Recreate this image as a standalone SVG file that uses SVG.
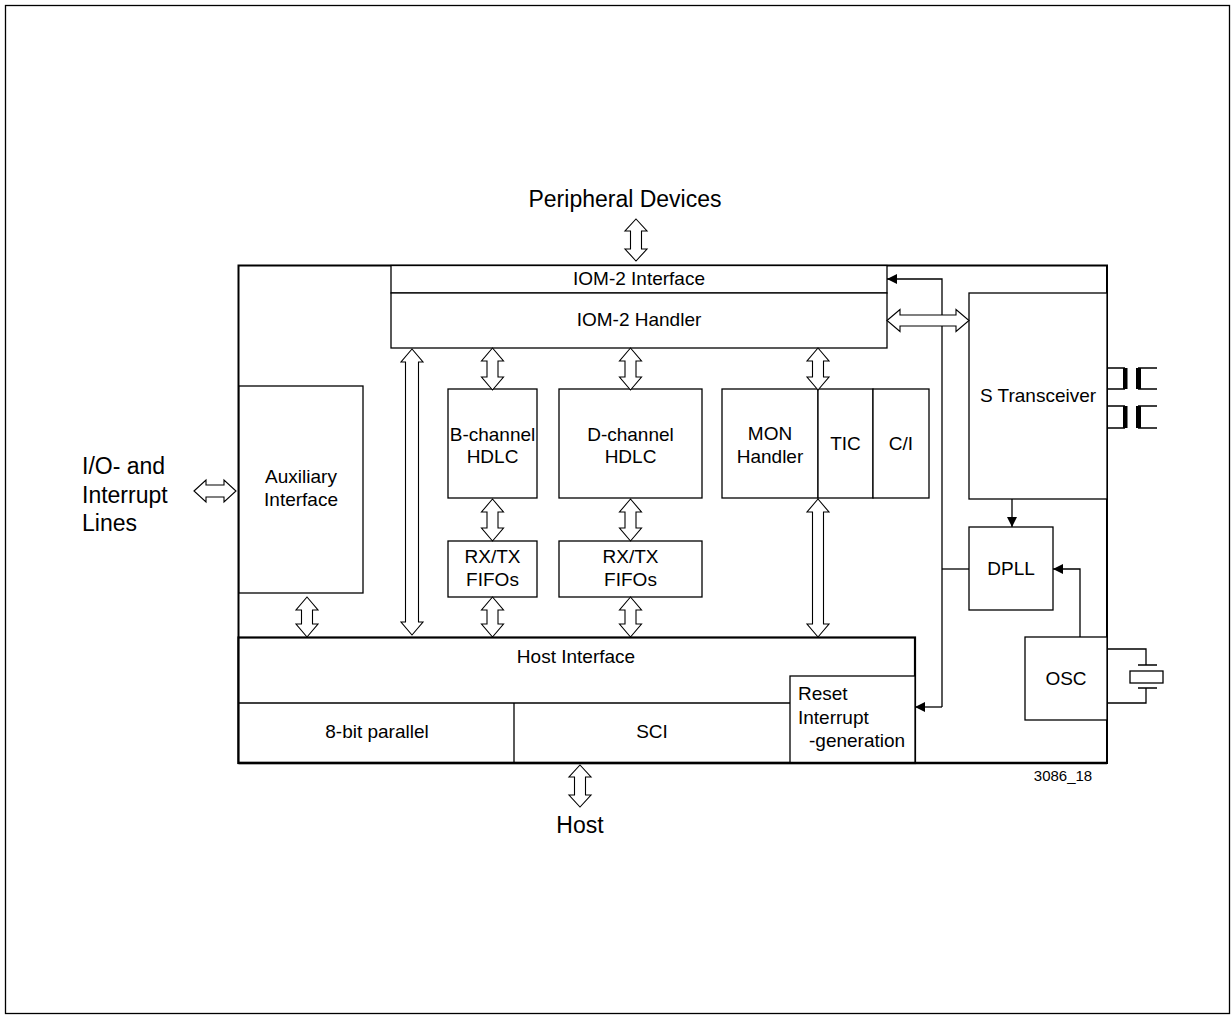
<svg xmlns="http://www.w3.org/2000/svg" width="1232" height="1016" viewBox="0 0 1232 1016">
<defs>
<style>
text{font-family:"Liberation Sans",Arial,sans-serif;fill:#000}
.t{font-size:19px;text-anchor:middle}
.tl{font-size:19px}
.big{font-size:23px}
.box{fill:#fff;stroke:#000;stroke-width:1.3}
.ln{fill:none;stroke:#000;stroke-width:1.3}
.da{fill:#fff;stroke:#000;stroke-width:1.1;stroke-linejoin:miter}
</style>
<marker id="ah" viewBox="0 0 10 10" refX="10" refY="5" markerWidth="10" markerHeight="10" markerUnits="userSpaceOnUse" orient="auto">
<path d="M0,0 L10,5 L0,10 Z" fill="#000"/>
</marker>
</defs>
<rect width="1232" height="1016" fill="#fff"/>
<rect x="5.5" y="5.5" width="1224" height="1008" fill="none" stroke="#000" stroke-width="1.3"/>

<g id="chip">
<rect x="238.5" y="265.5" width="868.5" height="497.5" fill="#fff" stroke="#000" stroke-width="2"/>
</g>

<g id="peripheral-label"><text class="big" x="625" y="207" text-anchor="middle">Peripheral Devices</text></g>
<g id="io-label">
<text class="big" x="82" y="474">I/O- and</text>
<text class="big" x="82" y="503">Interrupt</text>
<text class="big" x="82" y="531">Lines</text>
</g>
<g id="host-label"><text class="big" x="580" y="833" text-anchor="middle">Host</text></g>
<g id="figure-id"><text x="1063" y="781" font-size="15" text-anchor="middle">3086_18</text></g>

<g id="iom2-interface">
<rect class="box" x="391" y="265.5" width="496" height="27.5"/>
<text class="t" x="639" y="285">IOM-2 Interface</text>
</g>
<g id="iom2-handler">
<rect class="box" x="391" y="293" width="496" height="55"/>
<text class="t" x="639" y="326">IOM-2 Handler</text>
</g>
<g id="auxiliary-interface">
<rect class="box" x="239" y="386" width="124" height="207"/>
<text class="t" x="301" y="483">Auxiliary</text>
<text class="t" x="301" y="506">Interface</text>
</g>
<g id="b-channel-hdlc">
<rect class="box" x="448" y="389" width="89" height="109"/>
<text class="t" x="492.5" y="441">B-channel</text>
<text class="t" x="492.5" y="463">HDLC</text>
</g>
<g id="d-channel-hdlc">
<rect class="box" x="559" y="389" width="143" height="109"/>
<text class="t" x="630.5" y="441">D-channel</text>
<text class="t" x="630.5" y="463">HDLC</text>
</g>
<g id="b-fifos">
<rect class="box" x="448" y="541" width="89" height="56"/>
<text class="t" x="492.5" y="563">RX/TX</text>
<text class="t" x="492.5" y="586">FIFOs</text>
</g>
<g id="d-fifos">
<rect class="box" x="559" y="541" width="143" height="56"/>
<text class="t" x="630.5" y="563">RX/TX</text>
<text class="t" x="630.5" y="586">FIFOs</text>
</g>
<g id="mon-handler">
<rect class="box" x="722" y="389" width="96" height="109"/>
<text class="t" x="770" y="440">MON</text>
<text class="t" x="770" y="463">Handler</text>
</g>
<g id="tic">
<rect class="box" x="818" y="389" width="55" height="109"/>
<text class="t" x="845.5" y="450">TIC</text>
</g>
<g id="ci">
<rect class="box" x="873" y="389" width="56" height="109"/>
<text class="t" x="901" y="450">C/I</text>
</g>
<g id="s-transceiver">
<rect class="box" x="969" y="293" width="138" height="206"/>
<text class="t" x="1038" y="402">S Transceiver</text>
</g>
<g id="dpll">
<rect class="box" x="969" y="527" width="84" height="83"/>
<text class="t" x="1011" y="575">DPLL</text>
</g>
<g id="osc">
<rect class="box" x="1025" y="637" width="82" height="83"/>
<text class="t" x="1066" y="685">OSC</text>
</g>
<g id="host-interface">
<rect x="238.5" y="637.5" width="676.5" height="125.5" fill="#fff" stroke="#000" stroke-width="2.2"/>
<text class="t" x="576" y="663">Host Interface</text>
<line class="ln" x1="238.5" y1="703" x2="790" y2="703"/>
</g>
<g id="parallel-8bit">
<text class="t" x="377" y="738">8-bit parallel</text>
</g>
<g id="sci">
<line class="ln" x1="514" y1="703" x2="514" y2="763"/>
<text class="t" x="652" y="738">SCI</text>
</g>
<g id="reset-interrupt">
<rect class="box" x="790" y="676" width="125" height="87"/>
<text class="tl" x="798" y="700">Reset</text>
<text class="tl" x="798" y="724">Interrupt</text>
<text class="tl" x="809" y="747">-generation</text>
</g>
<g id="chip-bottom"><line x1="238.5" y1="763" x2="1107" y2="763" stroke="#000" stroke-width="2.6"/></g>

<g id="capacitors">
<path class="ln" d="M1107,368 H1125 M1107,389 H1125 M1157,368 H1138 M1157,389 H1138"/>
<rect x="1123" y="368" width="4.5" height="21" fill="#000"/>
<rect x="1136" y="368" width="5" height="21" fill="#000"/>
<path class="ln" d="M1107,406 H1125 M1107,428 H1125 M1157,406 H1138 M1157,428 H1138"/>
<rect x="1123" y="406" width="4.5" height="22" fill="#000"/>
<rect x="1136" y="406" width="5" height="22" fill="#000"/>
</g>
<g id="crystal">
<path class="ln" d="M1107,649 H1146 V665 M1138,665 H1157 M1138,688 H1157 M1146,688 V703 H1107"/>
<rect class="box" x="1130" y="671" width="33" height="12"/>
</g>

<g id="connectors">
<path class="ln" d="M942,707 V279 H887" marker-end="url(#ah)"/>
<path class="ln" d="M942,707 H915" marker-end="url(#ah)"/>
<path class="ln" d="M942,569 H969"/>
<path class="ln" d="M1012,499 V527" marker-end="url(#ah)"/>
<path class="ln" d="M1080,637 V569 H1053" marker-end="url(#ah)"/>

<path class="da" d="M636,219 L647,231 L641.5,231 L641.5,249 L647,249 L636,261 L625,249 L630.5,249 L630.5,231 L625,231 Z"/>
<path class="da" d="M492.5,348 L503.5,361 L498,361 L498,377 L503.5,377 L492.5,390 L481.5,377 L487,377 L487,361 L481.5,361 Z"/>
<path class="da" d="M492.5,499 L503.5,512 L498,512 L498,528 L503.5,528 L492.5,541 L481.5,528 L487,528 L487,512 L481.5,512 Z"/>
<path class="da" d="M492.5,597 L503.5,610 L498,610 L498,624 L503.5,624 L492.5,637 L481.5,624 L487,624 L487,610 L481.5,610 Z"/>
<path class="da" d="M630.5,348 L641.5,361 L636,361 L636,377 L641.5,377 L630.5,390 L619.5,377 L625,377 L625,361 L619.5,361 Z"/>
<path class="da" d="M630.5,499 L641.5,512 L636,512 L636,528 L641.5,528 L630.5,541 L619.5,528 L625,528 L625,512 L619.5,512 Z"/>
<path class="da" d="M630.5,597 L641.5,610 L636,610 L636,624 L641.5,624 L630.5,637 L619.5,624 L625,624 L625,610 L619.5,610 Z"/>
<path class="da" d="M818,348 L829,361 L823.5,361 L823.5,377 L829,377 L818,390 L807,377 L812.5,377 L812.5,361 L807,361 Z"/>
<path class="da" d="M818,499 L829,512 L823.5,512 L823.5,624 L829,624 L818,637 L807,624 L812.5,624 L812.5,512 L807,512 Z"/>
<path class="da" d="M412,349 L423,362 L418.5,362 L418.5,622 L423,622 L412,635 L401,622 L405.5,622 L405.5,362 L401,362 Z"/>
<path class="da" d="M307,597 L318,610 L312.5,610 L312.5,624 L318,624 L307,637 L296,624 L301.5,624 L301.5,610 L296,610 Z"/>
<path class="da" d="M580,765 L591,777 L585.5,777 L585.5,795 L591,795 L580,807 L569,795 L574.5,795 L574.5,777 L569,777 Z"/>
<path class="da" d="M194,491 L206,480 L206,485 L224,485 L224,480 L236,491 L224,502 L224,497 L206,497 L206,502 Z"/>
<path class="da" d="M887,320.5 L900,309.5 L900,315 L956,315 L956,309.5 L969,320.5 L956,331.5 L956,326 L900,326 L900,331.5 Z"/>
</g>
</svg>
